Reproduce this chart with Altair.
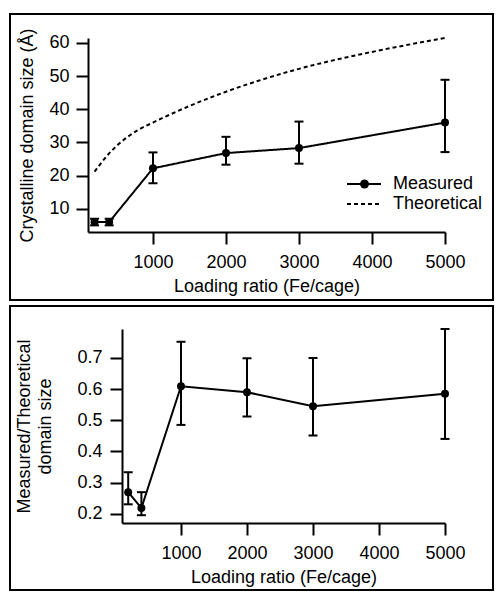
import altair as alt
import pandas as pd

# ---- data ----
loading = [200, 400, 1000, 2000, 3000, 5000]
measured = [6.0, 6.0, 22.2, 26.8, 28.3, 36.0]
measured_lo = [5.0, 5.0, 17.7, 23.3, 23.6, 27.1]
measured_hi = [7.0, 7.0, 27.0, 31.7, 36.3, 48.9]

theo_loading = [200, 400, 600, 800, 1000, 1500, 2000, 2500, 3000, 4000, 5000]
theoretical = [21.2, 26.7, 30.8, 33.8, 36.0, 41.0, 45.3, 49.0, 52.2, 57.3, 61.5]

ratio = [0.269, 0.218, 0.609, 0.590, 0.545, 0.585]
ratio_lo = [0.230, 0.195, 0.485, 0.512, 0.451, 0.440]
ratio_hi = [0.333, 0.269, 0.752, 0.699, 0.700, 0.793]

series = ["Measured", "Theoretical"]
x_ticks = [1000, 2000, 3000, 4000, 5000]
top_y_ticks = [10, 20, 30, 40, 50, 60]
bot_y_ticks = [0.2, 0.3, 0.4, 0.5, 0.6, 0.7]

x_title = "Loading ratio (Fe/cage)"
top_y_title = "Crystalline domain size (Å)"
bot_y_title = ["Measured/Theoretical", "domain size"]

FONT = "Liberation Sans"
W, H1, H2 = 357, 194, 194
SHIFT = 34          # bottom panel's y axis sits this far right of the top one
LEG_X, LEG_Y = 267, 137

meas_df = pd.DataFrame({"x": loading, "y": measured, "lo": measured_lo,
                        "hi": measured_hi, "series": series[0]})
theo_df = pd.DataFrame({"x": theo_loading, "y": theoretical, "series": series[1]})
ratio_df = pd.DataFrame({"x": loading, "y": ratio, "lo": ratio_lo, "hi": ratio_hi})
frame_df = pd.DataFrame({"f": [0]})

dash_scale = alt.Scale(domain=series, range=[[1, 0], [4, 3]])
line_legend = alt.Legend(
    title=None, orient="none", legendX=LEG_X, legendY=LEG_Y, padding=0,
    labelFont=FONT, labelFontSize=18, labelColor="black", labelOffset=20,
    rowPadding=2, symbolType="M-3.4,0H3.4", symbolSize=100, symbolStrokeWidth=2,
    symbolStrokeColor="black",
)
dot_legend = alt.Legend(
    title=None, orient="none", legendX=LEG_X + 0.5, legendY=LEG_Y, padding=0,
    labelFont=FONT, labelFontSize=18, labelOpacity=0, labelOffset=20,
    rowPadding=2, symbolType="circle", symbolSize=80, symbolStrokeWidth=0,
    symbolFillColor="black", symbolOpacity=1,
)


def x_enc(domain_lo, rng):
    return alt.X("x:Q", scale=alt.Scale(domain=[domain_lo, 5000], range=rng, nice=False, zero=False),
                 axis=alt.Axis(values=x_ticks, format="d", title=x_title, labelPadding=9,
                               titlePadding=6, labelOverlap=False, labelFlush=False))


def frame(h, top, bottom):
    return alt.Chart(frame_df).mark_rect(fillOpacity=0, stroke="black", strokeWidth=2).encode(
        x=alt.value(-78), x2=alt.value(W + 48), y=alt.value(-top), y2=alt.value(h + bottom))


# ---------- top panel ----------
ys_top = alt.Scale(domain=[3, 61.5], nice=False, zero=False)
top_y_axis = alt.Axis(values=top_y_ticks, format="d", title=top_y_title, labelPadding=7,
                      titlePadding=12, labelOverlap=False, labelFlush=False, tickCount=6)
xt = x_enc(110, [0, W])


def yt(field):
    return alt.Y(field, scale=ys_top, axis=top_y_axis)


theo_line = alt.Chart(theo_df).mark_line(color="black", strokeWidth=2, interpolate="monotone").encode(
    x=xt, y=yt("y:Q"),
    strokeDash=alt.StrokeDash("series:N", scale=dash_scale, legend=line_legend))
meas_line = alt.Chart(meas_df).mark_line(color="black", strokeWidth=2).encode(
    x=xt, y=yt("y:Q"),
    strokeDash=alt.StrokeDash("series:N", scale=dash_scale, legend=line_legend))
meas_rule = alt.Chart(meas_df).mark_rule(color="black", strokeWidth=2).encode(
    x=xt, y=yt("lo:Q"), y2="hi:Q")
meas_cap_lo = alt.Chart(meas_df).mark_tick(color="black", orient="horizontal", size=9, thickness=2, opacity=1).encode(
    x=xt, y=yt("lo:Q"))
meas_cap_hi = alt.Chart(meas_df).mark_tick(color="black", orient="horizontal", size=9, thickness=2, opacity=1).encode(
    x=xt, y=yt("hi:Q"))
meas_pts = alt.Chart(meas_df).mark_circle(size=64, opacity=1).encode(
    x=xt, y=yt("y:Q"),
    fill=alt.Fill("series:N", scale=alt.Scale(domain=[series[0]], range=["black"]), legend=dot_legend))

top = alt.layer(frame(H1, 24, 68), theo_line, meas_line, meas_rule, meas_cap_lo, meas_cap_hi,
                meas_pts).properties(width=W, height=H1)

# ---------- bottom panel ----------
ys_bot = alt.Scale(domain=[0.17, 0.793], nice=False, zero=False)
bot_y_axis = alt.Axis(values=bot_y_ticks, format=".1f", title=bot_y_title, labelPadding=8,
                      titlePadding=22, titleLineHeight=21, offset=-SHIFT,
                      labelOverlap=False, labelFlush=False, tickCount=6)
xb = x_enc(106, [SHIFT, W])


def yb(field):
    return alt.Y(field, scale=ys_bot, axis=bot_y_axis)


r_line = alt.Chart(ratio_df).mark_line(color="black", strokeWidth=2).encode(x=xb, y=yb("y:Q"))
r_rule = alt.Chart(ratio_df).mark_rule(color="black", strokeWidth=2).encode(
    x=xb, y=yb("lo:Q"), y2="hi:Q")
r_cap_lo = alt.Chart(ratio_df).mark_tick(color="black", orient="horizontal", size=9, thickness=2, opacity=1).encode(
    x=xb, y=yb("lo:Q"))
r_cap_hi = alt.Chart(ratio_df).mark_tick(color="black", orient="horizontal", size=9, thickness=2, opacity=1).encode(
    x=xb, y=yb("hi:Q"))
r_pts = alt.Chart(ratio_df).mark_circle(color="black", size=64, opacity=1).encode(x=xb, y=yb("y:Q"))

bottom = alt.layer(frame(H2, 23, 67), r_line, r_rule, r_cap_lo, r_cap_hi, r_pts).properties(
    width=W, height=H2)

chart = alt.vconcat(top, bottom, spacing=4).properties(
    padding={"left": 1, "top": 5, "right": 0, "bottom": 0},
    background="white",
).configure_view(stroke=None).configure_axis(
    grid=False, domainColor="black", domainWidth=2, tickColor="black", tickWidth=2, tickSize=12,
    labelFont=FONT, labelFontSize=18, labelColor="black", labelFlush=False, labelOverlap=False,
    titleFont=FONT, titleFontSize=18, titleColor="black", titleFontWeight="normal",
)

chart.save("out.html", embed_options={"renderer": "svg", "actions": False})
